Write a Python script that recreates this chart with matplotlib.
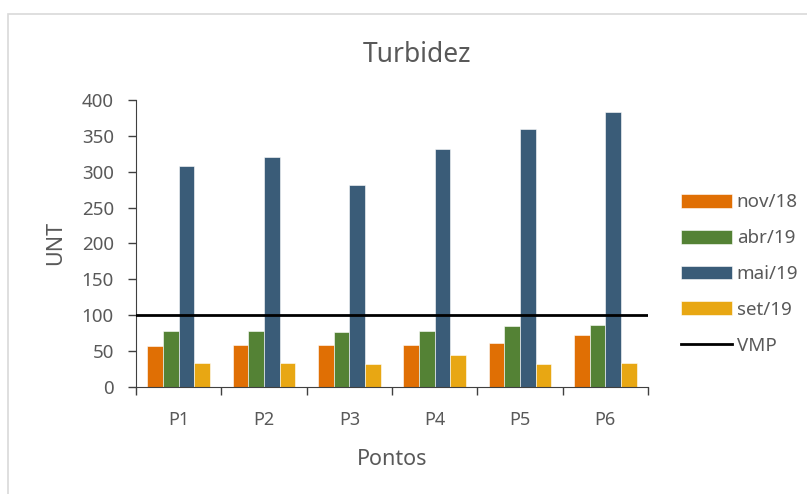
import matplotlib
matplotlib.use("Agg")
import matplotlib.pyplot as plt
import numpy as np
from matplotlib.patches import Rectangle

categories = ["P1", "P2", "P3", "P4", "P5", "P6"]
nov18 = [57, 59, 59, 59, 61, 72]
abr19 = [78, 78, 76, 78, 85, 87]
mai19 = [308, 321, 281, 332, 359, 383]
set19 = [34, 34, 32, 44, 32, 34]
vmp = 100
series_names = ["nov/18", "abr/19", "mai/19", "set/19"]
colors = ["#E06F04", "#548235", "#3A5C78", "#E8A713"]

plt.rcParams['font.family'] = ['Noto Sans', 'DejaVu Sans']
txt = "#595959"

fig = plt.figure(figsize=(8.07, 4.94), dpi=100)
fig.patches.append(Rectangle((8/807, -0.1), 1.2, 1 - 14/494 + 0.1, transform=fig.transFigure,
                             fill=False, edgecolor="#D9D9D9", linewidth=1.2))
ax = fig.add_axes([136/807, 1 - 387/494, (648-136)/807, (387-100)/494])

x = np.arange(len(categories))
w = 0.183
handles = []
for i, (vals, name, c) in enumerate(zip([nov18, abr19, mai19, set19], series_names, colors)):
    h = ax.bar(x + (i - 1.5) * w, vals, width=w, color=c, label=name, edgecolor="white", linewidth=0.4, zorder=2)
    handles.append(h)
ln = ax.axhline(vmp, color="black", linewidth=2, label="VMP", zorder=3)
handles.append(ln)

ax.set_xlim(-0.5, len(categories) - 0.5)
ax.set_ylim(0, 400)
ax.set_yticks(range(0, 401, 50))
ax.set_xticks(x)
ax.set_xticklabels(categories)
ax.set_xticks(np.arange(-0.5, len(categories), 1), minor=True)
ax.tick_params(axis="x", which="major", length=0, pad=17, labelsize=13, labelcolor=txt)
ax.tick_params(axis="x", which="minor", length=6, color="#404040", width=1)
ax.tick_params(axis="y", length=6, color="#404040", width=1, labelsize=13.5, labelcolor=txt, pad=10)
for s in ["top", "right"]:
    ax.spines[s].set_visible(False)
ax.spines["left"].set_color("#404040")
ax.spines["bottom"].set_color("#404040")
ax.set_facecolor("none")

fig.text(417/807, 1 - 55/494, "Turbidez", ha="center", va="center", fontsize=19, color=txt)
fig.text(392/807, 1 - 459/494, "Pontos", ha="center", va="center", fontsize=15.5, color=txt)
fig.text(56/807, 1 - 243/494, "UNT", ha="center", va="center", fontsize=15.5, color=txt, rotation=90)

leg = ax.legend(handles=handles, loc="center left", bbox_to_anchor=(672/807, 1 - 274/494),
                bbox_transform=fig.transFigure,
                frameon=False, fontsize=13.5, labelspacing=0.95, handlelength=2.7, handleheight=0.75,
                handletextpad=0.25, labelcolor=txt, borderpad=0)

fig.savefig("out.png", dpi=100)
